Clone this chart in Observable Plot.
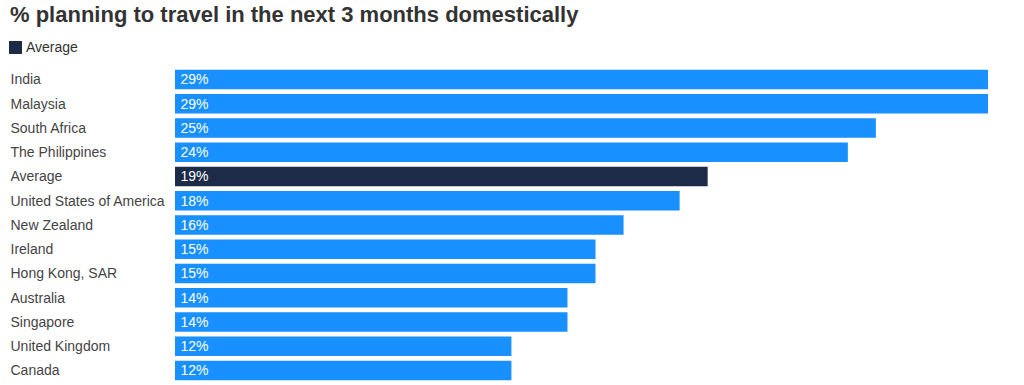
<!DOCTYPE html>
<html>
<head>
<meta charset="utf-8">
<script src="https://cdn.jsdelivr.net/npm/d3@7"></script>
<script src="https://cdn.jsdelivr.net/npm/@observablehq/plot@0.6"></script>
<style>
  html, body { margin: 0; padding: 0; background: #fff; }
  body { width: 1024px; height: 385px; overflow: hidden; position: relative; font-family: "Liberation Sans", Arial, sans-serif; }
  #title { position: absolute; left: 10px; top: 2px; font-size: 22px; font-weight: bold; color: #333; white-space: nowrap; }
  #legend { position: absolute; left: 9px; top: 39px; font-size: 14px; color: #333; display: flex; align-items: center; }
  #legend .sw { width: 13px; height: 13px; background: #1b2b48; margin-right: 4px; }
  #chart { position: absolute; left: 0; top: 60px; }
</style>
</head>
<body>
<div id="title">% planning to travel in the next 3 months domestically</div>
<div id="legend"><span class="sw"></span><span>Average</span></div>
<div id="chart"></div>
<script>
const countries = ["India", "Malaysia", "South Africa", "The Philippines", "Average", "United States of America", "New Zealand", "Ireland", "Hong Kong, SAR", "Australia", "Singapore", "United Kingdom", "Canada"];
const values = [29, 29, 25, 24, 19, 18, 16, 15, 15, 14, 14, 12, 12];
const highlight = "Average";

const data = countries.map((c, i) => ({country: c, value: values[i], avg: c === highlight}));

const chart = Plot.plot({
  width: 1024,
  height: 325,
  marginTop: 5,
  marginBottom: 0,
  marginLeft: 175,
  marginRight: 36,
  style: {fontFamily: "Liberation Sans, Arial, sans-serif", fontSize: "14px", background: "#fff"},
  x: {domain: [0, 29], axis: null},
  y: {domain: countries, axis: null, padding: 0.196, round: false},
  marks: [
    Plot.barX(data, {x: "value", y: "country", fill: d => d.avg ? "#1b2b48" : "#1890ff"}),
    Plot.text(data, {y: "country", text: "country", frameAnchor: "left", dx: -165, textAnchor: "start", fill: "#444", fontSize: 14}),
    Plot.text(data, {x: 0, y: "country", text: d => d.value + "%", dx: 5, textAnchor: "start", fill: "#fff", fontSize: 14})
  ]
});
document.getElementById("chart").appendChild(chart);
</script>
</body>
</html>
